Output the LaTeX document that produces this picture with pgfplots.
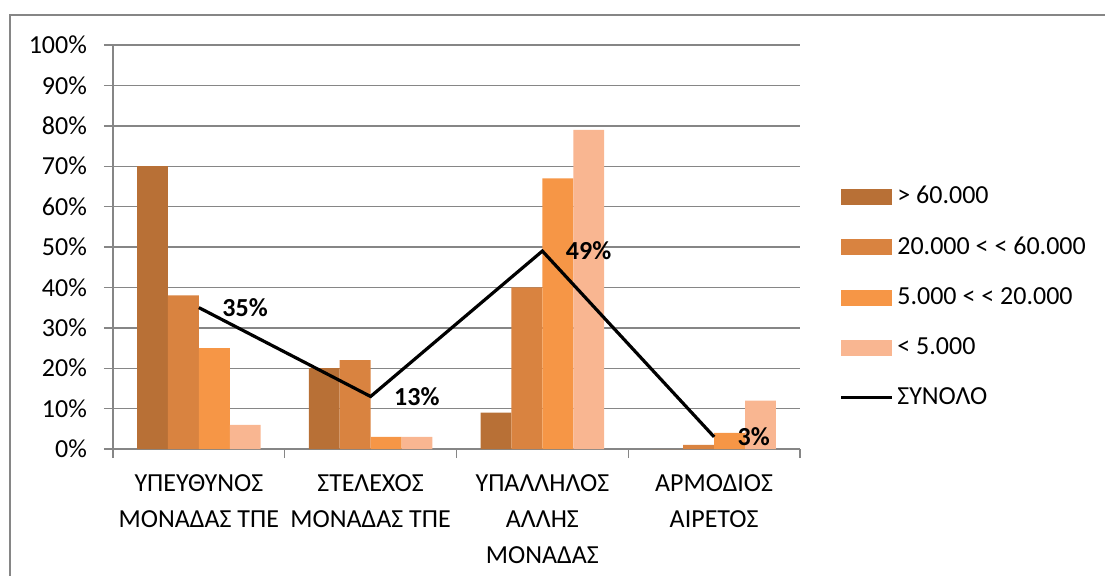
\documentclass[border=0pt]{standalone}
\usepackage{pgfplots}
\pgfplotsset{compat=1.18}
\usepackage{fontspec}
\setmainfont{Carlito}
\definecolor{c1}{RGB}{184,112,54}
\definecolor{c2}{RGB}{217,131,64}
\definecolor{c3}{RGB}{246,150,70}
\definecolor{c4}{RGB}{249,182,145}
\definecolor{gridgray}{RGB}{134,134,134}
\begin{document}
\fontsize{13}{18}\selectfont
\begin{tikzpicture}
\useasboundingbox (0,0) rectangle (552.5pt,287.5pt);
\draw[gridgray, line width=0.7pt] (5pt,-10pt) rectangle (570pt,280pt);
\begin{axis}[
  at={(56.5pt,63pt)}, anchor=south west,
  scale only axis, width=343.5pt, height=202pt,
  xmin=-0.5, xmax=3.5, ymin=0, ymax=100,
  axis x line*=bottom, axis y line*=left,
  axis line style={gridgray, line width=0.7pt},
  tick style={gridgray, line width=0.7pt},
  tick align=outside, major tick length=4.5pt,
  ymajorgrids, grid style={gridgray, line width=0.7pt},
  ytick={0,10,...,100},
  yticklabels={0\%,10\%,20\%,30\%,40\%,50\%,60\%,70\%,80\%,90\%,100\%},
  yticklabel style={font=\fontsize{13}{18}\selectfont, xshift=-4pt},
  xtick={-0.5,0.5,1.5,2.5,3.5},
  x tick label as interval,
  xticklabels={{ΥΠΕΥΘΥΝΟΣ\\ΜΟΝΑΔΑΣ ΤΠΕ},{ΣΤΕΛΕΧΟΣ\\ΜΟΝΑΔΑΣ ΤΠΕ},{ΥΠΑΛΛΗΛΟΣ\\ΑΛΛΗΣ\\ΜΟΝΑΔΑΣ},{ΑΡΜΟΔΙΟΣ\\ΑΙΡΕΤΟΣ}},
  xticklabel style={font=\fontsize{13}{18}\selectfont, align=center, anchor=north, yshift=-4pt},
  legend style={at={(axis description cs:1.057,0.376)}, anchor=west, draw=none, fill=none,
    inner sep=0pt, row sep=11pt, nodes={inner sep=1.8pt, anchor=west},
    font=\fontsize{13}{18}\selectfont},
  legend cell align=left,
]
\addplot[ybar, bar width=0.18, bar shift=-0.27, fill=c1, draw=none,
  legend image code/.code={\path[fill=c1] (0pt,-4pt) rectangle (25.5pt,4pt);}]
  coordinates {(0,70) (1,20) (2,9) (3,0)};
\addlegendentry{> 60.000}
\addplot[ybar, bar width=0.18, bar shift=-0.09, fill=c2, draw=none,
  legend image code/.code={\path[fill=c2] (0pt,-4pt) rectangle (25.5pt,4pt);}]
  coordinates {(0,38) (1,22) (2,40) (3,1)};
\addlegendentry{20.000 < < 60.000}
\addplot[ybar, bar width=0.18, bar shift=0.09, fill=c3, draw=none,
  legend image code/.code={\path[fill=c3] (0pt,-4pt) rectangle (25.5pt,4pt);}]
  coordinates {(0,25) (1,3) (2,67) (3,4)};
\addlegendentry{5.000 < < 20.000}
\addplot[ybar, bar width=0.18, bar shift=0.27, fill=c4, draw=none,
  legend image code/.code={\path[fill=c4] (0pt,-4pt) rectangle (25.5pt,4pt);}]
  coordinates {(0,6) (1,3) (2,79) (3,12)};
\addlegendentry{< 5.000}
\addplot[black, line width=1.6pt, mark=none,
  point meta=explicit symbolic,
  nodes near coords,
  nodes near coords style={anchor=west, xshift=11pt, inner sep=0pt, text=black,
    font=\fontsize{13}{18}\selectfont\bfseries},
  legend image code/.code={\draw[black, line width=1.6pt] (0pt,0pt) -- (25.5pt,0pt);}]
  coordinates {(0,35) [35\%] (1,13) [13\%] (2,49) [49\%] (3,3) [3\%]};
\addlegendentry{ΣΥΝΟΛΟ}
\end{axis}
\end{tikzpicture}
\end{document}
